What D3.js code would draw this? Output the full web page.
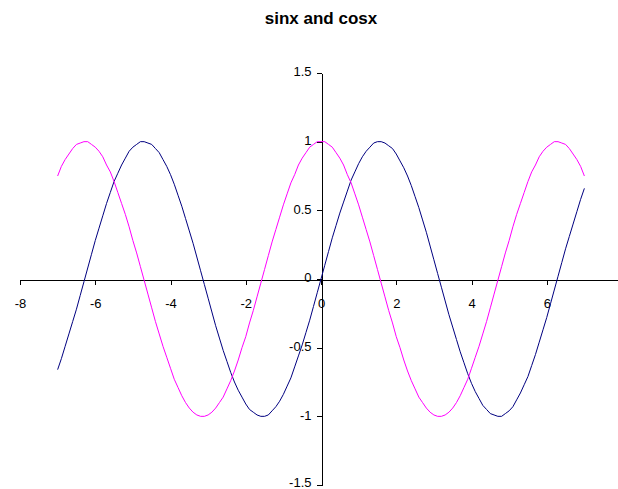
<!DOCTYPE html>
<html>
<head>
<meta charset="utf-8">
<script src="https://cdn.jsdelivr.net/npm/d3@7"></script>
<style>
  body { margin: 0; background: #fff; }
  #chart svg { display: block; }
  .axis text { font-family: "Liberation Sans", Arial, sans-serif; font-size: 13px; fill: #000; }
  .axis path, .axis line { stroke: #000; stroke-width: 1; shape-rendering: crispEdges; }
</style>
</head>
<body>
<div id="chart"></div>
<script>
// x values (step 0.1 from -7 to 7)
const xValues = [
  -7.0,-6.9,-6.8,-6.7,-6.6,-6.5,-6.4,-6.3,-6.2,-6.1,
  -6.0,-5.9,-5.8,-5.7,-5.6,-5.5,-5.4,-5.3,-5.2,-5.1,
  -5.0,-4.9,-4.8,-4.7,-4.6,-4.5,-4.4,-4.3,-4.2,-4.1,
  -4.0,-3.9,-3.8,-3.7,-3.6,-3.5,-3.4,-3.3,-3.2,-3.1,
  -3.0,-2.9,-2.8,-2.7,-2.6,-2.5,-2.4,-2.3,-2.2,-2.1,
  -2.0,-1.9,-1.8,-1.7,-1.6,-1.5,-1.4,-1.3,-1.2,-1.1,
  -1.0,-0.9,-0.8,-0.7,-0.6,-0.5,-0.4,-0.3,-0.2,-0.1,
  0.0,
  0.1,0.2,0.3,0.4,0.5,0.6,0.7,0.8,0.9,1.0,
  1.1,1.2,1.3,1.4,1.5,1.6,1.7,1.8,1.9,2.0,
  2.1,2.2,2.3,2.4,2.5,2.6,2.7,2.8,2.9,3.0,
  3.1,3.2,3.3,3.4,3.5,3.6,3.7,3.8,3.9,4.0,
  4.1,4.2,4.3,4.4,4.5,4.6,4.7,4.8,4.9,5.0,
  5.1,5.2,5.3,5.4,5.5,5.6,5.7,5.8,5.9,6.0,
  6.1,6.2,6.3,6.4,6.5,6.6,6.7,6.8,6.9,7.0
];

const sinValues = [
  -0.66,-0.58,-0.49,-0.40,-0.31,-0.22,-0.12,-0.02,0.08,0.18,
  0.28,0.37,0.46,0.55,0.63,0.71,0.77,0.83,0.88,0.93,
  0.96,0.98,1.00,1.00,0.99,0.98,0.95,0.92,0.87,0.82,
  0.76,0.69,0.61,0.53,0.44,0.35,0.26,0.16,0.06,-0.04,
  -0.14,-0.24,-0.34,-0.43,-0.52,-0.60,-0.68,-0.75,-0.81,-0.86,
  -0.91,-0.95,-0.97,-0.99,-1.00,-1.00,-0.99,-0.96,-0.93,-0.89,
  -0.84,-0.78,-0.72,-0.64,-0.56,-0.48,-0.39,-0.30,-0.20,-0.10,
  0.00,
  0.10,0.20,0.30,0.39,0.48,0.56,0.64,0.72,0.78,0.84,
  0.89,0.93,0.96,0.99,1.00,1.00,0.99,0.97,0.95,0.91,
  0.86,0.81,0.75,0.68,0.60,0.52,0.43,0.34,0.24,0.14,
  0.04,-0.06,-0.16,-0.26,-0.35,-0.44,-0.53,-0.61,-0.69,-0.76,
  -0.82,-0.87,-0.92,-0.95,-0.98,-0.99,-1.00,-1.00,-0.98,-0.96,
  -0.93,-0.88,-0.83,-0.77,-0.71,-0.63,-0.55,-0.46,-0.37,-0.28,
  -0.18,-0.08,0.02,0.12,0.22,0.31,0.40,0.49,0.58,0.66
];

const cosValues = [
  0.75,0.82,0.87,0.91,0.95,0.98,0.99,1.00,1.00,0.98,
  0.96,0.93,0.89,0.83,0.78,0.71,0.63,0.55,0.47,0.38,
  0.28,0.19,0.09,-0.01,-0.11,-0.21,-0.31,-0.40,-0.49,-0.57,
  -0.65,-0.73,-0.79,-0.85,-0.90,-0.94,-0.97,-0.99,-1.00,-1.00,
  -0.99,-0.97,-0.94,-0.90,-0.86,-0.80,-0.74,-0.67,-0.59,-0.50,
  -0.42,-0.32,-0.23,-0.13,-0.03,0.07,0.17,0.27,0.36,0.45,
  0.54,0.62,0.70,0.76,0.83,0.88,0.92,0.96,0.98,1.00,
  1.00,
  1.00,0.98,0.96,0.92,0.88,0.83,0.76,0.70,0.62,0.54,
  0.45,0.36,0.27,0.17,0.07,-0.03,-0.13,-0.23,-0.32,-0.42,
  -0.50,-0.59,-0.67,-0.74,-0.80,-0.86,-0.90,-0.94,-0.97,-0.99,
  -1.00,-1.00,-0.99,-0.97,-0.94,-0.90,-0.85,-0.79,-0.73,-0.65,
  -0.57,-0.49,-0.40,-0.31,-0.21,-0.11,-0.01,0.09,0.19,0.28,
  0.38,0.47,0.55,0.63,0.71,0.78,0.83,0.89,0.93,0.96,
  0.98,1.00,1.00,0.99,0.98,0.95,0.91,0.87,0.82,0.75
];

const xTicks = [-8, -6, -4, -2, 0, 2, 4, 6];
const yTicks = [-1.5, -1, -0.5, 0, 0.5, 1, 1.5];

const width = 618, height = 489;

const svg = d3.select("#chart")
  .append("svg")
  .attr("width", width)
  .attr("height", height);

const x = d3.scaleLinear().domain([-8, 8]).range([20, 622]);
const y = d3.scaleLinear().domain([-1.5, 1.5]).range([485, 73]);

// title
svg.append("text")
  .attr("x", 321)
  .attr("y", 24)
  .attr("text-anchor", "middle")
  .style("font-family", "'Liberation Sans', Arial, sans-serif")
  .style("font-size", "17px")
  .style("font-weight", "bold")
  .text("sinx and cosx");

// x axis crosses at y = 0
svg.append("g")
  .attr("class", "axis")
  .attr("transform", `translate(0,${Math.round(y(0)) + 0.5})`)
  .call(d3.axisBottom(x).tickValues(xTicks).tickSize(5).tickSizeOuter(0).tickPadding(14)
    .tickFormat(d3.format("d")));

// y axis crosses at x = 0
svg.append("g")
  .attr("class", "axis y-axis")
  .attr("transform", `translate(${Math.round(x(0)) + 0.5},0)`)
  .call(d3.axisLeft(y).tickValues(yTicks).tickSize(5).tickSizeOuter(0).tickPadding(5)
    .tickFormat(d => d3.format("")(d)));

// keep the bottom label inside the picture
svg.selectAll(".y-axis text").attr("dy", d => d === -1.5 ? "0.08em" : "0.22em");

svg.selectAll(".axis text").text(function () {
  return this.textContent.replace("−", "-");
});

const series = [
  { name: "sinx", values: sinValues, color: "#000080" },
  { name: "cosx", values: cosValues, color: "#FF00FF" }
];

const line = d3.line()
  .x(d => x(d[0]))
  .y(d => y(d[1]));

svg.selectAll("path.series")
  .data(series)
  .enter().append("path")
  .attr("class", "series")
  .attr("fill", "none")
  .attr("stroke", d => d.color)
  .attr("stroke-width", 1)
  .attr("d", d => line(xValues.map((xv, i) => [xv, d.values[i]])));
</script>
</body>
</html>
